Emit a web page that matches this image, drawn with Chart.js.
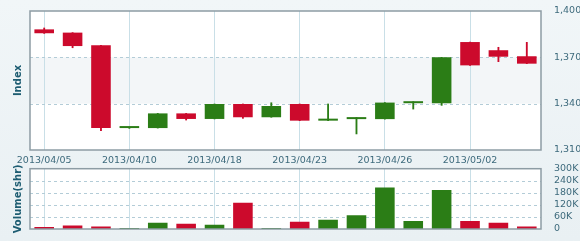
<!DOCTYPE html>
<html>
<head>
<meta charset="utf-8">
<script src="https://cdn.jsdelivr.net/npm/chart.js@4"></script>
<style>
  html, body { margin: 0; padding: 0; }
  body { width: 580px; height: 241px; background: linear-gradient(#f1f6f8, #e9f0f3); position: relative; overflow: hidden; }
  .box { position: absolute; left: 0; width: 580px; }
  #priceBox { top: 0; height: 165px; }
  #volBox { top: 158px; height: 83px; }
</style>
</head>
<body>
<div class="box" id="priceBox"><canvas id="price-chart"></canvas></div>
<div class="box" id="volBox"><canvas id="vol-chart"></canvas></div>
<script>
var dates = ['2013/04/05', '2013/04/08', '2013/04/09', '2013/04/10', '2013/04/11', '2013/04/15',
             '2013/04/18', '2013/04/19', '2013/04/22', '2013/04/23', '2013/04/24', '2013/04/25',
             '2013/04/26', '2013/04/29', '2013/04/30', '2013/05/02', '2013/05/03', '2013/05/06'];
var openVals  = [1388.1, 1386.0, 1377.8, 1324.2, 1324.2, 1333.7, 1330.1, 1339.8, 1331.2, 1339.8, 1329.0, 1330.0, 1330.0, 1340.3, 1340.2, 1379.9, 1374.6, 1370.7];
var highVals  = [1389.0, 1386.0, 1377.8, 1324.6, 1333.7, 1333.7, 1339.8, 1339.8, 1340.6, 1339.8, 1339.8, 1331.0, 1340.7, 1341.3, 1370.0, 1379.9, 1376.5, 1379.7];
var lowVals   = [1385.5, 1376.2, 1322.5, 1324.0, 1324.2, 1329.4, 1330.1, 1330.5, 1331.2, 1329.0, 1329.0, 1320.4, 1330.0, 1336.5, 1338.9, 1364.8, 1367.2, 1365.9];
var closeVals = [1385.6, 1377.3, 1324.2, 1324.6, 1333.7, 1330.1, 1339.8, 1331.2, 1338.5, 1329.0, 1329.8, 1330.9, 1340.7, 1341.0, 1370.0, 1364.8, 1370.4, 1365.9];
var volumes   = [10, 18, 13, 5, 31, 26, 21, 131, 5, 36, 46, 68, 206, 40, 194, 40, 31, 13]; // thousands
var priceTicks = [1310, 1340, 1370, 1400];
var volTicks = [0, 60, 120, 180, 240, 300];

var UP = '#2b7d16';
var DOWN = '#cc0a2c';
var TXT = '#3d6a7c';

var candleColors = openVals.map((o, i) => closeVals[i] >= o ? UP : DOWN);

function showLabel(i) { return i % 3 === 0; }

// plot background, band, dashed rows and frame
var frame = {
    id: 'frame',
    beforeDraw(chart, args, opts) {
        var a = chart.chartArea, c = chart.ctx, y = chart.scales.y;
        c.save();
        c.fillStyle = '#ffffff';
        c.fillRect(a.left, a.top, a.width, a.height);
        if (opts.band) {
            var y1 = y.getPixelForValue(opts.band[1]), y2 = y.getPixelForValue(opts.band[0]);
            c.fillStyle = '#f3f6f8';
            c.fillRect(a.left, y1, a.width, y2 - y1);
        }
        c.restore();
    },
    beforeDatasetsDraw(chart, args, opts) {
        var a = chart.chartArea, c = chart.ctx, y = chart.scales.y;
        c.save();
        c.strokeStyle = '#b3ccd7';
        c.lineWidth = 1;
        c.setLineDash([3, 3]);
        y.ticks.forEach(function(t) {
            if (t.value === y.min || t.value === y.max) return;
            var py = Math.round(y.getPixelForValue(t.value)) + 0.5;
            c.beginPath();
            c.moveTo(a.left, py);
            c.lineTo(a.right, py);
            c.stroke();
        });
        c.restore();
    },
    afterDraw(chart, args, opts) {
        var a = chart.chartArea, c = chart.ctx;
        c.save();
        c.strokeStyle = '#8d9ca4';
        c.lineWidth = 1.5;
        c.strokeRect(a.left, a.top, a.width, a.height);
        if (opts.title) {
            c.translate(18, (a.top + a.bottom) / 2);
            c.rotate(-Math.PI / 2);
            c.fillStyle = '#1e5d72';
            c.font = 'bold 10px "DejaVu Sans"';
            c.textAlign = 'center';
            c.textBaseline = 'middle';
            c.fillText(opts.title, 0, 0);
        }
        c.restore();
    }
};

function xGrid(ctx) {
    return showLabel(ctx.index) ? '#c9dfe7' : 'rgba(0,0,0,0)';
}

var priceChart = new Chart(document.getElementById('price-chart'), {
    type: 'bar',
    data: {
        labels: dates,
        datasets: [{
            label: 'body',
            data: openVals.map((o, i) => [o, closeVals[i]]),
            backgroundColor: candleColors,
            borderWidth: 0,
            minBarLength: 2,
            barPercentage: 0.69,
            categoryPercentage: 1,
            grouped: false,
            order: 1
        }, {
            label: 'wick',
            data: lowVals.map((l, i) => [l, highVals[i]]),
            backgroundColor: candleColors,
            borderWidth: 0,
            barThickness: 1.2,
            grouped: false,
            order: 2
        }]
    },
    options: {
        responsive: true,
        maintainAspectRatio: false,
        animation: false,
        layout: { padding: { left: 30, top: 11, right: 0, bottom: 0 } },
        plugins: {
            legend: { display: false },
            tooltip: { enabled: false },
            frame: { band: [1340, 1370], title: 'Index' }
        },
        scales: {
            x: {
                grid: { offset: false, color: xGrid, drawTicks: false },
                border: { display: false },
                ticks: {
                    autoSkip: false, maxRotation: 0, padding: 5,
                    color: TXT, font: { family: 'DejaVu Sans', size: 9.5 },
                    callback: function(v, i) { return showLabel(i) ? dates[i] : ''; }
                },
                afterFit: function(s) { s.height = 15; }
            },
            y: {
                position: 'right',
                min: priceTicks[0],
                max: priceTicks[priceTicks.length - 1],
                afterBuildTicks: function(s) { s.ticks = priceTicks.map(v => ({ value: v })); },
                grid: { display: false },
                border: { display: false },
                ticks: {
                    autoSkip: false, padding: 5, color: TXT, font: { family: 'DejaVu Sans', size: 9.5 },
                    callback: (v) => v.toLocaleString('en-US')
                },
                afterFit: function(s) { s.width = 39; }
            }
        }
    },
    plugins: [frame]
});

var volChart = new Chart(document.getElementById('vol-chart'), {
    type: 'bar',
    data: {
        labels: dates,
        datasets: [{
            label: 'Volume',
            data: volumes,
            backgroundColor: candleColors,
            borderWidth: 0,
            barPercentage: 0.69,
            categoryPercentage: 1
        }]
    },
    options: {
        responsive: true,
        maintainAspectRatio: false,
        animation: false,
        layout: { padding: { left: 30, top: 0, right: 0, bottom: 12 } },
        plugins: {
            legend: { display: false },
            tooltip: { enabled: false },
            frame: { title: 'Volume(shr)' }
        },
        scales: {
            x: {
                grid: { offset: false, color: xGrid, drawTicks: false },
                border: { display: false },
                ticks: { display: false },
                afterFit: function(s) { s.height = 0; }
            },
            y: {
                position: 'right',
                min: 0,
                max: 300,
                afterBuildTicks: function(s) { s.ticks = volTicks.map(v => ({ value: v })); },
                grid: { display: false },
                border: { display: false },
                ticks: {
                    autoSkip: false, padding: 5, color: TXT, font: { family: 'DejaVu Sans', size: 9.5 },
                    callback: (v) => v === 0 ? '0' : v + 'K'
                },
                afterFit: function(s) { s.width = 39; }
            }
        }
    },
    plugins: [frame]
});
</script>
</body>
</html>
